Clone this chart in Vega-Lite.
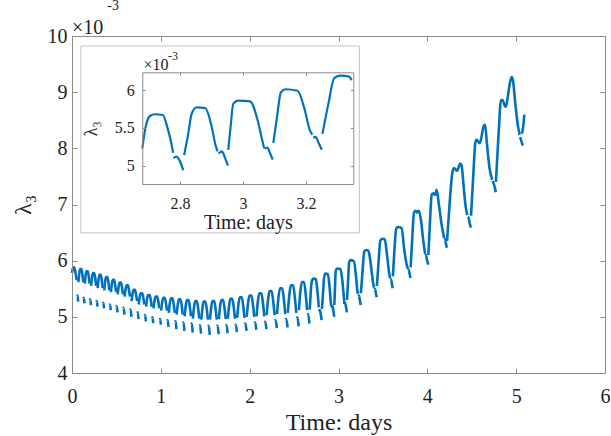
{
"$schema": "https://vega.github.io/schema/vega-lite/v6.json",
"width": 533, "height": 337,
"autosize": {"type": "none"},
"padding": {"left": 72, "top": 36, "right": 6, "bottom": 63},
"background": "white",
"config": {
  "view": {"stroke": "#8c8c8c", "strokeWidth": 1},
  "font": "Liberation Serif",
  "text": {"font": "Liberation Serif"},
  "axis": {"grid": false, "domainColor": "#8c8c8c", "tickColor": "#8c8c8c", "labelColor": "#222222", "titleColor": "#222222", "labelFont": "Liberation Serif", "titleFont": "Liberation Serif", "titleFontWeight": "normal", "labelFlush": false, "labelOverlap": false}
},
"datasets": {
"lam": [
{"t":0,"v":5.78,"s":0},{"t":0.01,"v":5.86,"s":0},{"t":0.025,"v":5.88,"s":0},{"t":0.04,"v":5.78,"s":0},{"t":0.054,"v":5.65,"s":0},
{"t":0.056,"v":5.37,"s":1},{"t":0.062,"v":5.38,"s":1},{"t":0.07,"v":5.27,"s":1},
{"t":0.072,"v":5.62,"s":2},{"t":0.083,"v":5.78,"s":2},{"t":0.092,"v":5.85,"s":2},{"t":0.106,"v":5.85,"s":2},{"t":0.118,"v":5.74,"s":2},{"t":0.127,"v":5.62,"s":2},
{"t":0.128,"v":5.33,"s":3},{"t":0.133,"v":5.34,"s":3},{"t":0.141,"v":5.24,"s":3},
{"t":0.143,"v":5.59,"s":4},{"t":0.154,"v":5.74,"s":4},{"t":0.163,"v":5.81,"s":4},{"t":0.178,"v":5.81,"s":4},{"t":0.19,"v":5.7,"s":4},{"t":0.198,"v":5.59,"s":4},
{"t":0.2,"v":5.3,"s":5},{"t":0.205,"v":5.31,"s":5},{"t":0.213,"v":5.21,"s":5},
{"t":0.215,"v":5.55,"s":6},{"t":0.226,"v":5.71,"s":6},{"t":0.236,"v":5.78,"s":6},{"t":0.251,"v":5.78,"s":6},{"t":0.263,"v":5.67,"s":6},{"t":0.272,"v":5.55,"s":6},
{"t":0.273,"v":5.27,"s":7},{"t":0.279,"v":5.28,"s":7},{"t":0.287,"v":5.18,"s":7},
{"t":0.289,"v":5.51,"s":8},{"t":0.3,"v":5.68,"s":8},{"t":0.31,"v":5.75,"s":8},{"t":0.325,"v":5.75,"s":8},{"t":0.337,"v":5.63,"s":8},{"t":0.346,"v":5.51,"s":8},
{"t":0.347,"v":5.24,"s":9},{"t":0.353,"v":5.25,"s":9},{"t":0.361,"v":5.15,"s":9},
{"t":0.363,"v":5.47,"s":10},{"t":0.374,"v":5.64,"s":10},{"t":0.384,"v":5.71,"s":10},{"t":0.399,"v":5.71,"s":10},{"t":0.412,"v":5.59,"s":10},{"t":0.421,"v":5.47,"s":10},
{"t":0.422,"v":5.21,"s":11},{"t":0.428,"v":5.22,"s":11},{"t":0.436,"v":5.12,"s":11},
{"t":0.438,"v":5.44,"s":12},{"t":0.449,"v":5.59,"s":12},{"t":0.459,"v":5.66,"s":12},{"t":0.474,"v":5.66,"s":12},{"t":0.487,"v":5.55,"s":12},{"t":0.497,"v":5.44,"s":12},
{"t":0.498,"v":5.18,"s":13},{"t":0.503,"v":5.19,"s":13},{"t":0.512,"v":5.08,"s":13},
{"t":0.514,"v":5.4,"s":14},{"t":0.526,"v":5.55,"s":14},{"t":0.536,"v":5.61,"s":14},{"t":0.551,"v":5.61,"s":14},{"t":0.565,"v":5.5,"s":14},{"t":0.574,"v":5.4,"s":14},
{"t":0.576,"v":5.15,"s":15},{"t":0.581,"v":5.16,"s":15},{"t":0.59,"v":5.04,"s":15},
{"t":0.592,"v":5.36,"s":16},{"t":0.604,"v":5.5,"s":16},{"t":0.614,"v":5.56,"s":16},{"t":0.63,"v":5.56,"s":16},{"t":0.643,"v":5.46,"s":16},{"t":0.653,"v":5.36,"s":16},
{"t":0.654,"v":5.12,"s":17},{"t":0.66,"v":5.13,"s":17},{"t":0.669,"v":5.0,"s":17},
{"t":0.671,"v":5.28,"s":18},{"t":0.683,"v":5.42,"s":18},{"t":0.693,"v":5.48,"s":18},{"t":0.709,"v":5.48,"s":18},{"t":0.723,"v":5.38,"s":18},{"t":0.733,"v":5.28,"s":18},
{"t":0.734,"v":5.07,"s":19},{"t":0.74,"v":5.08,"s":19},{"t":0.749,"v":4.96,"s":19},
{"t":0.751,"v":5.22,"s":20},{"t":0.763,"v":5.36,"s":20},{"t":0.774,"v":5.42,"s":20},{"t":0.791,"v":5.42,"s":20},{"t":0.805,"v":5.32,"s":20},{"t":0.815,"v":5.22,"s":20},
{"t":0.817,"v":5.02,"s":21},{"t":0.822,"v":5.03,"s":21},{"t":0.832,"v":4.92,"s":21},
{"t":0.834,"v":5.18,"s":22},{"t":0.846,"v":5.33,"s":22},{"t":0.857,"v":5.39,"s":22},{"t":0.874,"v":5.39,"s":22},{"t":0.888,"v":5.29,"s":22},{"t":0.898,"v":5.18,"s":22},
{"t":0.9,"v":4.98,"s":23},{"t":0.905,"v":4.99,"s":23},{"t":0.915,"v":4.89,"s":23},
{"t":0.917,"v":5.15,"s":24},{"t":0.93,"v":5.3,"s":24},{"t":0.941,"v":5.36,"s":24},{"t":0.958,"v":5.36,"s":24},{"t":0.973,"v":5.26,"s":24},{"t":0.983,"v":5.15,"s":24},
{"t":0.985,"v":4.95,"s":25},{"t":0.991,"v":4.96,"s":25},{"t":1.001,"v":4.86,"s":25},
{"t":1.003,"v":5.11,"s":26},{"t":1.016,"v":5.27,"s":26},{"t":1.027,"v":5.34,"s":26},{"t":1.044,"v":5.34,"s":26},{"t":1.059,"v":5.23,"s":26},{"t":1.069,"v":5.11,"s":26},
{"t":1.071,"v":4.93,"s":27},{"t":1.077,"v":4.94,"s":27},{"t":1.087,"v":4.82,"s":27},
{"t":1.089,"v":5.07,"s":28},{"t":1.102,"v":5.25,"s":28},{"t":1.114,"v":5.33,"s":28},{"t":1.132,"v":5.33,"s":28},{"t":1.147,"v":5.2,"s":28},{"t":1.158,"v":5.07,"s":28},
{"t":1.159,"v":4.91,"s":29},{"t":1.166,"v":4.92,"s":29},{"t":1.176,"v":4.78,"s":29},
{"t":1.178,"v":5.04,"s":30},{"t":1.192,"v":5.23,"s":30},{"t":1.203,"v":5.31,"s":30},{"t":1.221,"v":5.31,"s":30},{"t":1.237,"v":5.18,"s":30},{"t":1.247,"v":5.04,"s":30},
{"t":1.249,"v":4.89,"s":31},{"t":1.255,"v":4.9,"s":31},{"t":1.266,"v":4.75,"s":31},
{"t":1.268,"v":5.01,"s":32},{"t":1.282,"v":5.21,"s":32},{"t":1.294,"v":5.3,"s":32},{"t":1.313,"v":5.3,"s":32},{"t":1.328,"v":5.16,"s":32},{"t":1.34,"v":5.01,"s":32},
{"t":1.341,"v":4.87,"s":33},{"t":1.348,"v":4.88,"s":33},{"t":1.359,"v":4.72,"s":33},
{"t":1.361,"v":4.97,"s":34},{"t":1.375,"v":5.19,"s":34},{"t":1.387,"v":5.28,"s":34},{"t":1.406,"v":5.28,"s":34},{"t":1.422,"v":5.13,"s":34},{"t":1.433,"v":4.97,"s":34},
{"t":1.435,"v":4.84,"s":35},{"t":1.442,"v":4.85,"s":35},{"t":1.453,"v":4.7,"s":35},
{"t":1.455,"v":4.95,"s":36},{"t":1.47,"v":5.17,"s":36},{"t":1.482,"v":5.27,"s":36},{"t":1.502,"v":5.27,"s":36},{"t":1.519,"v":5.11,"s":36},{"t":1.53,"v":4.95,"s":36},
{"t":1.532,"v":4.83,"s":37},{"t":1.539,"v":4.84,"s":37},{"t":1.551,"v":4.68,"s":37},
{"t":1.553,"v":4.95,"s":38},{"t":1.568,"v":5.18,"s":38},{"t":1.581,"v":5.28,"s":38},{"t":1.601,"v":5.28,"s":38},{"t":1.618,"v":5.12,"s":38},{"t":1.63,"v":4.95,"s":38},
{"t":1.632,"v":4.83,"s":39},{"t":1.639,"v":4.84,"s":39},{"t":1.651,"v":4.69,"s":39},
{"t":1.653,"v":4.96,"s":40},{"t":1.668,"v":5.2,"s":40},{"t":1.681,"v":5.3,"s":40},{"t":1.701,"v":5.3,"s":40},{"t":1.719,"v":5.13,"s":40},{"t":1.731,"v":4.96,"s":40},
{"t":1.733,"v":4.84,"s":41},{"t":1.74,"v":4.85,"s":41},{"t":1.752,"v":4.71,"s":41},
{"t":1.754,"v":4.97,"s":42},{"t":1.77,"v":5.22,"s":42},{"t":1.783,"v":5.32,"s":42},{"t":1.804,"v":5.32,"s":42},{"t":1.822,"v":5.15,"s":42},{"t":1.835,"v":4.97,"s":42},
{"t":1.837,"v":4.85,"s":43},{"t":1.844,"v":4.86,"s":43},{"t":1.857,"v":4.73,"s":43},
{"t":1.859,"v":4.98,"s":44},{"t":1.875,"v":5.24,"s":44},{"t":1.889,"v":5.35,"s":44},{"t":1.911,"v":5.35,"s":44},{"t":1.929,"v":5.17,"s":44},{"t":1.942,"v":4.98,"s":44},
{"t":1.944,"v":4.87,"s":45},{"t":1.952,"v":4.88,"s":45},{"t":1.965,"v":4.75,"s":45},
{"t":1.967,"v":5.0,"s":46},{"t":1.984,"v":5.27,"s":46},{"t":1.998,"v":5.38,"s":46},{"t":2.02,"v":5.38,"s":46},{"t":2.039,"v":5.19,"s":46},{"t":2.052,"v":5.0,"s":46},
{"t":2.054,"v":4.89,"s":47},{"t":2.062,"v":4.9,"s":47},{"t":2.075,"v":4.77,"s":47},
{"t":2.077,"v":5.01,"s":48},{"t":2.094,"v":5.3,"s":48},{"t":2.109,"v":5.42,"s":48},{"t":2.132,"v":5.42,"s":48},{"t":2.151,"v":5.22,"s":48},{"t":2.165,"v":5.01,"s":48},
{"t":2.167,"v":4.9,"s":49},{"t":2.175,"v":4.91,"s":49},{"t":2.189,"v":4.78,"s":49},
{"t":2.191,"v":5.03,"s":50},{"t":2.209,"v":5.33,"s":50},{"t":2.224,"v":5.46,"s":50},{"t":2.247,"v":5.46,"s":50},{"t":2.267,"v":5.25,"s":50},{"t":2.281,"v":5.03,"s":50},
{"t":2.283,"v":4.93,"s":51},{"t":2.292,"v":4.94,"s":51},{"t":2.306,"v":4.8,"s":51},
{"t":2.308,"v":5.05,"s":52},{"t":2.326,"v":5.37,"s":52},{"t":2.342,"v":5.51,"s":52},{"t":2.366,"v":5.51,"s":52},{"t":2.387,"v":5.28,"s":52},{"t":2.401,"v":5.05,"s":52},
{"t":2.404,"v":4.95,"s":53},{"t":2.412,"v":4.96,"s":53},{"t":2.427,"v":4.81,"s":53},
{"t":2.429,"v":5.07,"s":54},{"t":2.448,"v":5.41,"s":54},{"t":2.464,"v":5.56,"s":54},{"t":2.489,"v":5.56,"s":54},{"t":2.51,"v":5.32,"s":54},{"t":2.525,"v":5.07,"s":54},
{"t":2.528,"v":4.98,"s":55},{"t":2.537,"v":4.99,"s":55},{"t":2.552,"v":4.83,"s":55},
{"t":2.554,"v":5.12,"s":56},{"t":2.572,"v":5.47,"s":56},{"t":2.588,"v":5.62,"s":56},{"t":2.612,"v":5.62,"s":56},{"t":2.633,"v":5.37,"s":56},{"t":2.647,"v":5.12,"s":56},
{"t":2.65,"v":5.04,"s":57},{"t":2.658,"v":5.05,"s":57},{"t":2.673,"v":4.88,"s":57},
{"t":2.675,"v":5.13,"s":58},{"t":2.68,"v":5.23,"s":58},{"t":2.69,"v":5.5,"s":58},{"t":2.705,"v":5.66,"s":58},{"t":2.72,"v":5.68,"s":58},{"t":2.745,"v":5.67,"s":58},{"t":2.76,"v":5.5,"s":58},{"t":2.772,"v":5.3,"s":58},{"t":2.778,"v":5.17,"s":58},
{"t":2.779,"v":5.1,"s":59},{"t":2.788,"v":5.12,"s":59},{"t":2.797,"v":5.08,"s":59},{"t":2.81,"v":4.94,"s":59},
{"t":2.813,"v":5.14,"s":60},{"t":2.825,"v":5.4,"s":60},{"t":2.837,"v":5.69,"s":60},{"t":2.853,"v":5.77,"s":60},{"t":2.88,"v":5.76,"s":60},{"t":2.9,"v":5.52,"s":60},{"t":2.912,"v":5.28,"s":60},{"t":2.919,"v":5.19,"s":60},
{"t":2.922,"v":5.16,"s":61},{"t":2.933,"v":5.19,"s":61},{"t":2.942,"v":5.11,"s":61},{"t":2.952,"v":5.0,"s":61},
{"t":2.953,"v":5.21,"s":62},{"t":2.96,"v":5.5,"s":62},{"t":2.969,"v":5.82,"s":62},{"t":2.985,"v":5.86,"s":62},{"t":3.022,"v":5.85,"s":62},{"t":3.045,"v":5.62,"s":62},{"t":3.06,"v":5.35,"s":62},{"t":3.067,"v":5.23,"s":62},
{"t":3.069,"v":5.22,"s":63},{"t":3.077,"v":5.24,"s":63},{"t":3.085,"v":5.17,"s":63},{"t":3.094,"v":5.08,"s":63},
{"t":3.096,"v":5.3,"s":64},{"t":3.108,"v":5.65,"s":64},{"t":3.12,"v":5.97,"s":64},{"t":3.135,"v":6.01,"s":64},{"t":3.173,"v":5.99,"s":64},{"t":3.195,"v":5.75,"s":64},{"t":3.212,"v":5.47,"s":64},{"t":3.22,"v":5.41,"s":64},
{"t":3.223,"v":5.37,"s":65},{"t":3.23,"v":5.38,"s":65},{"t":3.24,"v":5.3,"s":65},{"t":3.25,"v":5.21,"s":65},
{"t":3.252,"v":5.42,"s":66},{"t":3.27,"v":5.8,"s":66},{"t":3.29,"v":6.16,"s":66},{"t":3.31,"v":6.19,"s":66},{"t":3.335,"v":6.18,"s":66},{"t":3.345,"v":6.13,"s":66},{"t":3.37,"v":5.85,"s":66},{"t":3.39,"v":5.6,"s":66},{"t":3.4,"v":5.52,"s":66},
{"t":3.403,"v":5.49,"s":67},{"t":3.41,"v":5.5,"s":67},{"t":3.42,"v":5.43,"s":67},{"t":3.43,"v":5.35,"s":67},
{"t":3.432,"v":5.55,"s":68},{"t":3.45,"v":5.95,"s":68},{"t":3.47,"v":6.35,"s":68},{"t":3.49,"v":6.39,"s":68},{"t":3.52,"v":6.38,"s":68},{"t":3.55,"v":6.05,"s":68},{"t":3.57,"v":5.78,"s":68},{"t":3.58,"v":5.69,"s":68},
{"t":3.583,"v":5.66,"s":69},{"t":3.59,"v":5.67,"s":69},{"t":3.6,"v":5.6,"s":69},{"t":3.61,"v":5.51,"s":69},
{"t":3.612,"v":5.72,"s":70},{"t":3.63,"v":6.2,"s":70},{"t":3.65,"v":6.57,"s":70},{"t":3.67,"v":6.6,"s":70},{"t":3.71,"v":6.58,"s":70},{"t":3.74,"v":6.2,"s":70},{"t":3.765,"v":5.95,"s":70},{"t":3.78,"v":5.86,"s":70},
{"t":3.783,"v":5.83,"s":71},{"t":3.79,"v":5.84,"s":71},{"t":3.8,"v":5.77,"s":71},{"t":3.81,"v":5.69,"s":71},
{"t":3.812,"v":5.88,"s":72},{"t":3.83,"v":6.4,"s":72},{"t":3.85,"v":6.86,"s":72},{"t":3.87,"v":6.89,"s":72},{"t":3.885,"v":6.86,"s":72},{"t":3.905,"v":6.89,"s":72},{"t":3.93,"v":6.7,"s":72},{"t":3.955,"v":6.35,"s":72},{"t":3.975,"v":6.12,"s":72},
{"t":3.978,"v":6.09,"s":73},{"t":3.985,"v":6.1,"s":73},{"t":3.995,"v":6.02,"s":73},{"t":4.01,"v":5.93,"s":73},
{"t":4.012,"v":6.1,"s":74},{"t":4.03,"v":6.7,"s":74},{"t":4.05,"v":7.18,"s":74},{"t":4.07,"v":7.2,"s":74},{"t":4.085,"v":7.17,"s":74},{"t":4.105,"v":7.26,"s":74},{"t":4.13,"v":7.0,"s":74},{"t":4.16,"v":6.65,"s":74},{"t":4.19,"v":6.4,"s":74},
{"t":4.193,"v":6.37,"s":75},{"t":4.2,"v":6.38,"s":75},{"t":4.21,"v":6.3,"s":75},{"t":4.22,"v":6.23,"s":75},
{"t":4.222,"v":6.35,"s":76},{"t":4.25,"v":7.0,"s":76},{"t":4.28,"v":7.55,"s":76},{"t":4.3,"v":7.65,"s":76},{"t":4.335,"v":7.6,"s":76},{"t":4.37,"v":7.73,"s":76},{"t":4.385,"v":7.7,"s":76},{"t":4.41,"v":7.3,"s":76},{"t":4.43,"v":6.98,"s":76},{"t":4.45,"v":6.81,"s":76},
{"t":4.455,"v":6.78,"s":77},{"t":4.465,"v":6.76,"s":77},{"t":4.475,"v":6.68,"s":77},{"t":4.49,"v":6.59,"s":77},
{"t":4.492,"v":6.8,"s":78},{"t":4.52,"v":7.6,"s":78},{"t":4.54,"v":8.1,"s":78},{"t":4.555,"v":8.15,"s":78},{"t":4.59,"v":8.09,"s":78},{"t":4.635,"v":8.4,"s":78},{"t":4.65,"v":8.42,"s":78},{"t":4.67,"v":8.1,"s":78},{"t":4.7,"v":7.65,"s":78},{"t":4.73,"v":7.44,"s":78},
{"t":4.735,"v":7.42,"s":79},{"t":4.745,"v":7.38,"s":79},{"t":4.76,"v":7.3,"s":79},{"t":4.77,"v":7.22,"s":79},
{"t":4.772,"v":7.4,"s":80},{"t":4.8,"v":8.2,"s":80},{"t":4.83,"v":8.86,"s":80},{"t":4.845,"v":8.86,"s":80},{"t":4.88,"v":8.74,"s":80},{"t":4.935,"v":9.2,"s":80},{"t":4.95,"v":9.27,"s":80},{"t":4.965,"v":9.2,"s":80},{"t":4.99,"v":8.8,"s":80},{"t":5.02,"v":8.4,"s":80},{"t":5.04,"v":8.24,"s":80},
{"t":5.045,"v":8.2,"s":81},{"t":5.06,"v":8.12,"s":81},{"t":5.075,"v":8.05,"s":81},
{"t":5.065,"v":8.26,"s":82},{"t":5.08,"v":8.4,"s":82},{"t":5.092,"v":8.6,"s":82}
]
},
"layer": [
  {
    "data": {"values": [{"x1": 0.1, "x2": 3.235, "y1": 6.495, "y2": 9.822}]},
    "mark": {"type": "rect", "filled": false, "stroke": "#c4c4c4", "strokeWidth": 1},
    "encoding": {
      "x": {"field": "x1", "type": "quantitative", "scale": {"domain": [0, 6], "nice": false, "zero": false}, "axis": null},
      "x2": {"field": "x2"},
      "y": {"field": "y1", "type": "quantitative", "scale": {"domain": [4, 10], "nice": false, "zero": false}, "axis": null},
      "y2": {"field": "y2"}
    }
  },
  {
    "data": {"name": "lam"},
    "mark": {"type": "line", "color": "#0072BD", "strokeWidth": 2.6, "interpolate": "monotone"},
    "encoding": {
      "x": {"field": "t", "type": "quantitative", "scale": {"domain": [0, 6], "nice": false, "zero": false},
        "axis": {"orient": "bottom", "values": [0,1,2,3,4,5,6], "format": "d", "title": "Time: days", "titleFontSize": 24, "labelFontSize": 20, "tickSize": -5, "labelPadding": 18, "titlePadding": 4, "zindex": 1}},
      "y": {"field": "v", "type": "quantitative", "scale": {"domain": [4, 10], "nice": false, "zero": false},
        "axis": {"orient": "left", "values": [4,5,6,7,8,9,10], "format": "d", "title": "λ₃", "titleFontSize": 24, "labelFontSize": 20, "tickSize": -5, "labelPadding": 10, "titlePadding": 12, "zindex": 1}},
      "detail": {"field": "s", "type": "nominal"}
    }
  },
  {
    "data": {"name": "lam"},
    "mark": {"type": "line", "opacity": 0},
    "encoding": {
      "x": {"field": "t", "type": "quantitative", "scale": {"domain": [0, 6], "nice": false, "zero": false},
        "axis": {"orient": "top", "values": [0,1,2,3,4,5,6], "labels": false, "domain": false, "title": null, "tickSize": -5, "zindex": 1}},
      "y": {"field": "v", "type": "quantitative", "scale": {"domain": [4, 10], "nice": false, "zero": false},
        "axis": {"orient": "right", "values": [4,5,6,7,8,9,10], "labels": false, "domain": false, "title": null, "tickSize": -5, "zindex": 1}},
      "detail": {"field": "s", "type": "nominal"}
    }
  },
  {
    "data": {"name": "lam"},
    "transform": [{"filter": "datum.t >= 2.68 && datum.t <= 3.35"}],
    "mark": {"type": "line", "color": "#0072BD", "strokeWidth": 2.2, "interpolate": "monotone"},
    "encoding": {
      "x": {"field": "t", "type": "quantitative", "scale": {"domain": [2.68, 3.35], "range": [70.3, 281.3], "nice": false, "zero": false},
        "axis": {"orient": "bottom", "offset": -189, "values": [2.8, 3, 3.2], "format": ".1~f", "title": "Time: days", "titleFontSize": 20, "labelFontSize": 16, "tickSize": -3, "labelPadding": 14, "titlePadding": 1, "zindex": 1}},
      "y": {"field": "v", "type": "quantitative", "scale": {"domain": [4.758, 6.234], "range": [148, 36.3], "nice": false, "zero": false},
        "axis": {"orient": "left", "offset": -70.3, "values": [5, 5.5, 6], "format": ".1~f", "title": "λ₃", "titleFontSize": 18, "labelFontSize": 16, "tickSize": -3, "labelPadding": 11, "titlePadding": 14, "zindex": 1}},
      "detail": {"field": "s", "type": "nominal"}
    }
  },
  {
    "data": {"name": "lam"},
    "transform": [{"filter": "datum.t >= 2.68 && datum.t <= 3.35"}],
    "mark": {"type": "line", "opacity": 0},
    "encoding": {
      "x": {"field": "t", "type": "quantitative", "scale": {"domain": [2.68, 3.35], "range": [70.3, 281.3], "nice": false, "zero": false},
        "axis": {"orient": "top", "offset": -36.3, "values": [2.8, 3, 3.2], "labels": false, "title": null, "tickSize": -3, "zindex": 1}},
      "y": {"field": "v", "type": "quantitative", "scale": {"domain": [4.758, 6.234], "range": [148, 36.3], "nice": false, "zero": false},
        "axis": {"orient": "right", "offset": -251.7, "values": [5, 5.5, 6], "labels": false, "title": null, "tickSize": -3, "zindex": 1}},
      "detail": {"field": "s", "type": "nominal"}
    }
  },
  {
    "data": {"values": [{"x": 0, "y": 10.035, "label": "×10"}]},
    "mark": {"type": "text", "align": "left", "baseline": "alphabetic", "fontSize": 20, "color": "#222222", "font": "Liberation Serif"},
    "encoding": {
      "x": {"field": "x", "type": "quantitative", "scale": {"domain": [0, 6], "nice": false, "zero": false}, "axis": null},
      "y": {"field": "y", "type": "quantitative", "scale": {"domain": [4, 10], "nice": false, "zero": false}, "axis": null},
      "text": {"field": "label"}
    }
  },
  {
    "data": {"values": [{"x": 0.398, "y": 10.46, "label": "-3"}]},
    "mark": {"type": "text", "align": "left", "baseline": "alphabetic", "fontSize": 14, "color": "#222222", "font": "Liberation Serif"},
    "encoding": {
      "x": {"field": "x", "type": "quantitative", "scale": {"domain": [0, 6], "nice": false, "zero": false}, "axis": null},
      "y": {"field": "y", "type": "quantitative", "scale": {"domain": [4, 10], "nice": false, "zero": false}, "axis": null},
      "text": {"field": "label"}
    }
  },
  {
    "data": {"values": [{"x": 0.806, "y": 9.39, "label": "×10"}]},
    "mark": {"type": "text", "align": "left", "baseline": "alphabetic", "fontSize": 16, "color": "#222222", "font": "Liberation Serif"},
    "encoding": {
      "x": {"field": "x", "type": "quantitative", "scale": {"domain": [0, 6], "nice": false, "zero": false}, "axis": null},
      "y": {"field": "y", "type": "quantitative", "scale": {"domain": [4, 10], "nice": false, "zero": false}, "axis": null},
      "text": {"field": "label"}
    }
  },
  {
    "data": {"values": [{"x": 1.08, "y": 9.58, "label": "-3"}]},
    "mark": {"type": "text", "align": "left", "baseline": "alphabetic", "fontSize": 12, "color": "#222222", "font": "Liberation Serif"},
    "encoding": {
      "x": {"field": "x", "type": "quantitative", "scale": {"domain": [0, 6], "nice": false, "zero": false}, "axis": null},
      "y": {"field": "y", "type": "quantitative", "scale": {"domain": [4, 10], "nice": false, "zero": false}, "axis": null},
      "text": {"field": "label"}
    }
  }
],
"resolve": {"scale": {"x": "independent", "y": "independent"}, "axis": {"x": "independent", "y": "independent"}}
}
